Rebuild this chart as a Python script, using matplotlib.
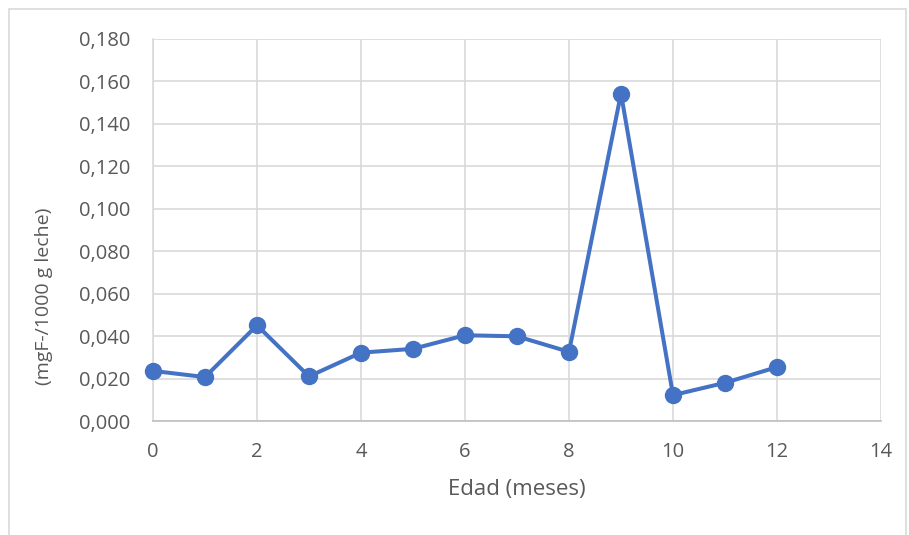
import matplotlib
matplotlib.use("Agg")
import matplotlib.pyplot as plt
from matplotlib.patches import Rectangle
from matplotlib.ticker import FuncFormatter, MultipleLocator

edad = [0, 1, 2, 3, 4, 5, 6, 7, 8, 9, 10, 11, 12]
fluor = [0.0236, 0.0207, 0.0451, 0.0210, 0.0322, 0.0340, 0.0404,
         0.0399, 0.0326, 0.1543, 0.0122, 0.0180, 0.0254]
x_label = "Edad (meses)"
y_label = "(mgF-/1000 g leche)"

plt.rcParams['font.family'] = ['Open Sans', 'DejaVu Sans']
text_color = '#595959'

fig = plt.figure(figsize=(9.09, 5.35), dpi=100)
fig.patches.append(Rectangle((9 / 909, -0.05), (906 - 9) / 909, 1 - 9 / 535 + 0.05,
                             transform=fig.transFigure, fill=False,
                             edgecolor='#D9D9D9', linewidth=1.2))
ax = fig.add_axes([153 / 909, 1 - 421 / 535, (881 - 153) / 909, (421 - 39) / 535])

ax.plot(edad, fluor, color='#4472C4', linewidth=2.9, marker='o',
        markersize=11.5, zorder=3, clip_on=False)

ax.set_xlim(0, 14)
ax.set_ylim(0, 0.18)
ax.xaxis.set_major_locator(MultipleLocator(2))
ax.yaxis.set_major_locator(MultipleLocator(0.02))
ax.yaxis.set_major_formatter(FuncFormatter(lambda v, p: f"{v:.3f}".replace('.', ',')))
ax.grid(True, color='#D9D9D9', linewidth=1.2)
ax.set_axisbelow(True)
for s in ['top', 'right']:
    ax.spines[s].set_visible(False)
ax.spines['left'].set_color('#D9D9D9')
ax.spines['left'].set_linewidth(1.2)
ax.spines['bottom'].set_color('#BFBFBF')
ax.spines['bottom'].set_linewidth(1.2)
ax.tick_params(axis='both', length=0, labelsize=14.5, colors=text_color)
ax.tick_params(axis='y', pad=16.5)
ax.tick_params(axis='x', pad=15)
ax.set_xlabel(x_label, fontsize=16, color=text_color, labelpad=12)
fig.text(44 / 909, 1 - 296 / 535, y_label, rotation=90, fontsize=14,
         color=text_color, ha='center', va='center')

fig.savefig("out.png", dpi=100)
